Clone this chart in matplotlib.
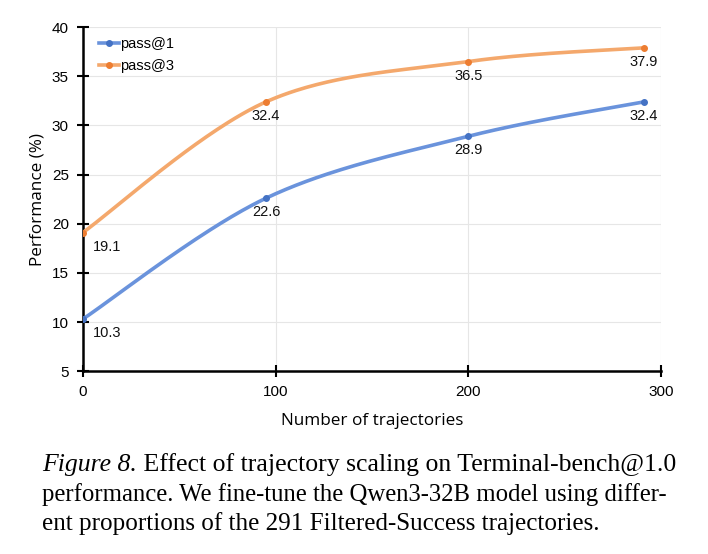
import numpy as np
import matplotlib
matplotlib.use("Agg")
import matplotlib.pyplot as plt

# ---- data ----
x_traj = [0, 95, 200, 291]
pass1 = [10.3, 22.6, 28.9, 32.4]
pass3 = [19.1, 32.4, 36.5, 37.9]
series_names = ["pass@1", "pass@3"]
x_ticks = [0, 100, 200, 300]
y_ticks = [5, 10, 15, 20, 25, 30, 35, 40]
caption_lines = [
    ("Figure 8.", " Effect of trajectory scaling on Terminal-bench@1.0"),
    ("", "performance. We fine-tune the Qwen3-32B model using differ-"),
    ("", "ent proportions of the 291 Filtered-Success trajectories."),
]
caption_sizes = [18.5, 17.8, 18.1]

line_colors = ["#6a93dc", "#f4a86c"]
marker_colors = ["#4472c4", "#ed7d31"]


def smooth(xs, ys, n=60):
    """Excel-like smoothed line: cubic Bezier with cardinal-spline control points."""
    xs = np.asarray(xs, float)
    ys = np.asarray(ys, float)
    P = np.column_stack([xs, ys])
    out = []
    m = len(P)
    for i in range(m - 1):
        p0 = P[i - 1] if i > 0 else P[i]
        p1 = P[i]
        p2 = P[i + 1]
        p3 = P[i + 2] if i + 2 < m else P[i + 1]
        c1 = p1 + (p2 - p0) / 6.0
        c2 = p2 - (p3 - p1) / 6.0
        t = np.linspace(0, 1, n)[:, None]
        seg = ((1 - t) ** 3) * p1 + 3 * ((1 - t) ** 2) * t * c1 + 3 * (1 - t) * t ** 2 * c2 + t ** 3 * p2
        out.append(seg if i == 0 else seg[1:])
    out = np.vstack(out)
    return out[:, 0], out[:, 1]


fig = plt.figure(figsize=(7.08, 5.54), dpi=100)
ax = fig.add_axes([0.117, 0.330, 0.817, 0.621])

for ys, name, lc, mc in zip([pass1, pass3], series_names, line_colors, marker_colors):
    sx, sy = smooth(x_traj, ys)
    ax.plot(sx, sy, color=lc, lw=2.6, solid_capstyle="round", zorder=3)
    ax.plot(x_traj, ys, "o", color=mc, ms=4, zorder=4)
    # legend proxy
    ax.plot([], [], color=lc, lw=2.6, marker="o", ms=4, mfc=mc, mec=mc, label=name)
    for i, (xv, yv) in enumerate(zip(x_traj, ys)):
        dx = 24 if i == 0 else 0
        ax.annotate(f"{yv:.1f}", (xv, yv), xytext=(dx, -14), textcoords="offset pixels",
                    ha="center", va="center", fontsize=10.5, family="Liberation Sans",
                    color="#111111", zorder=5)

ax.set_xlim(0, 300)
ax.set_ylim(5, 40)
ax.set_xticks(x_ticks)
ax.set_yticks(y_ticks)
ax.grid(True, color="#e6e6e6", lw=0.8, zorder=0)
ax.set_axisbelow(True)
for s in ["top", "right"]:
    ax.spines[s].set_visible(False)
for s in ["left", "bottom"]:
    ax.spines[s].set_linewidth(1.8)
    ax.spines[s].set_color("black")
ax.tick_params(direction="inout", length=8, width=1.5, labelsize=11)
ax.tick_params(axis="x", pad=6)
ax.tick_params(axis="y", pad=6)
for lab in ax.get_xticklabels() + ax.get_yticklabels():
    lab.set_family("Liberation Sans")

ax.set_xlabel("Number of trajectories", family="Open Sans", fontsize=12.3, labelpad=10)
ax.set_ylabel("Performance (%)", family="Open Sans", fontsize=12.3, labelpad=5)

leg = ax.legend(loc="upper left", frameon=False, handlelength=1.4,
                handletextpad=0.05, labelspacing=0.55, borderaxespad=0.3,
                bbox_to_anchor=(0.01, 1.0), prop={"family": "Liberation Sans", "size": 10.5})

# caption
cap = fig.add_axes([0, 0, 1, 1])
cap.set_axis_off()
y0 = 0.150
dy = 0.0535
for k, ((ital, rest), fs) in enumerate(zip(caption_lines, caption_sizes)):
    yy = y0 - k * dy
    t1 = cap.text(0.060, yy, ital, family="Liberation Serif", style="italic", fontsize=fs,
                  transform=fig.transFigure, va="baseline", ha="left")
    if ital:
        cap.annotate(rest, xy=(1, 0), xycoords=t1, va="bottom", ha="left",
                     family="Liberation Serif", fontsize=fs)
    else:
        cap.text(0.060, yy, rest, family="Liberation Serif", fontsize=fs,
                 transform=fig.transFigure, va="baseline", ha="left")

fig.savefig("out.png", dpi=100)
